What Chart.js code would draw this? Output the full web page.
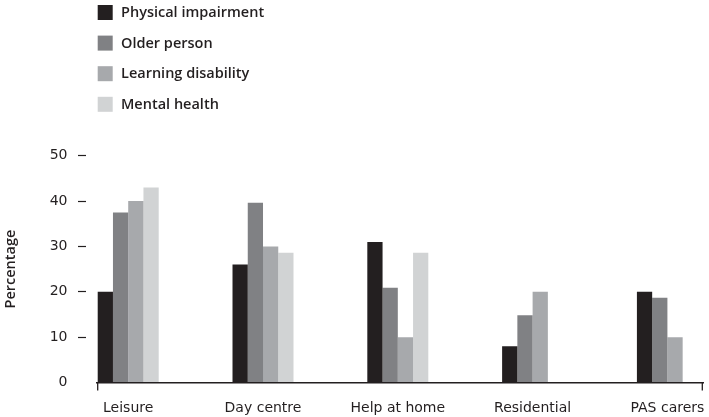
<!DOCTYPE html>
<html>
<head>
<meta charset="utf-8">
<script src="https://cdn.jsdelivr.net/npm/chart.js@4/dist/chart.umd.min.js"></script>
<style>
  html, body { margin: 0; padding: 0; background: #fff; }
  #chart { display: block; }
</style>
</head>
<body>
<canvas id="chart" width="709" height="417"></canvas>
<script>
// Service categories and the share of each user group using them (%)
const categories = ['Leisure', 'Day centre', 'Help at home', 'Residential', 'PAS carers'];
const seriesNames = ['Physical impairment', 'Older person', 'Learning disability', 'Mental health'];
const physicalImpairment = [20, 26, 31, 8, 20];
const olderPerson = [37.5, 39.6, 20.9, 14.8, 18.7];
const learningDisability = [40, 30, 10, 20, 10];
const mentalHealth = [43, 28.6, 28.6, null, null];
const yTicks = [0, 10, 20, 30, 40, 50];

const ink = '#231f20';
const colours = ['#231f20', '#808184', '#a7a9ac', '#d1d3d4'];
const values = [physicalImpairment, olderPerson, learningDisability, mentalHealth];

// x runs on a numeric axis so the groups can sit close to the left edge
const xMin = -0.2315;
const xMax = 4.264;

const datasets = seriesNames.map((name, s) => ({
    label: name,
    data: values[s].map((v, i) => ({ x: i, y: v })),
    backgroundColor: colours[s],
    borderWidth: 0,
    categoryPercentage: 0.4525,
    barPercentage: 1
}));

// Stacked legend in the top-left corner, plus the small end marks on the x axis
const extras = {
    id: 'extras',
    afterDraw(chart) {
        const ctx = chart.ctx;
        const area = chart.chartArea;
        ctx.save();
        ctx.strokeStyle = ink;
        ctx.lineWidth = 1.3;
        ctx.beginPath();
        [area.left + 0.7, area.right - 0.7].forEach(x => {
            ctx.moveTo(x, area.bottom);
            ctx.lineTo(x, area.bottom + 8);
        });
        ctx.stroke();

        ctx.font = '600 14.5px "Open Sans"';
        ctx.textBaseline = 'middle';
        ctx.textAlign = 'left';
        chart.data.datasets.forEach((ds, i) => {
            const top = 5 + i * 30.6;
            ctx.fillStyle = ds.backgroundColor;
            ctx.fillRect(97.7, top, 15, 15);
            ctx.fillStyle = ink;
            ctx.fillText(ds.label, 121, top + 8);
        });
        ctx.restore();
    }
};

new Chart(document.getElementById('chart'), {
    type: 'bar',
    data: { datasets },
    plugins: [extras],
    options: {
        responsive: false,
        animation: false,
        devicePixelRatio: 1,
        layout: { padding: { top: 155.7, right: 6, left: 0, bottom: 0 } },
        plugins: {
            legend: { display: false },
            tooltip: { enabled: false }
        },
        scales: {
            x: {
                type: 'linear',
                min: xMin,
                max: xMax,
                offset: false,
                afterBuildTicks: (scale) => {
                    scale.ticks = categories.map((c, i) => ({ value: i }));
                },
                afterFit: (scale) => {
                    scale.height = 34.5;
                    scale.paddingLeft = 0;
                    scale.paddingRight = 0;
                },
                border: { display: true, color: ink, width: 1.4 },
                grid: {
                    offset: false,
                    drawOnChartArea: false,
                    drawTicks: false
                },
                ticks: {
                    autoSkip: false,
                    maxRotation: 0,
                    padding: 17.4,
                    color: ink,
                    font: { family: 'DejaVu Sans', size: 14 },
                    callback: (v) => categories[v]
                }
            },
            y: {
                min: 0,
                max: 50,
                afterBuildTicks: (scale) => {
                    scale.ticks = yTicks.map(v => ({ value: v }));
                },
                afterFit: (scale) => { scale.width = 97; },
                border: { display: false },
                grid: {
                    drawOnChartArea: false,
                    tickLength: 19,
                    tickWidth: 1.2,
                    tickBorderDash: [8, 40],
                    tickColor: (c) => (c.tick && c.tick.value === 0) ? 'rgba(0,0,0,0)' : ink
                },
                ticks: {
                    padding: 10.5,
                    color: ink,
                    font: { family: 'DejaVu Sans', size: 14 }
                },
                title: {
                    display: true,
                    text: 'Percentage',
                    color: ink,
                    font: { family: 'Open Sans', size: 14.5, weight: '600' },
                    padding: { top: 2, bottom: 0 }
                }
            }
        }
    }
});
</script>
</body>
</html>
